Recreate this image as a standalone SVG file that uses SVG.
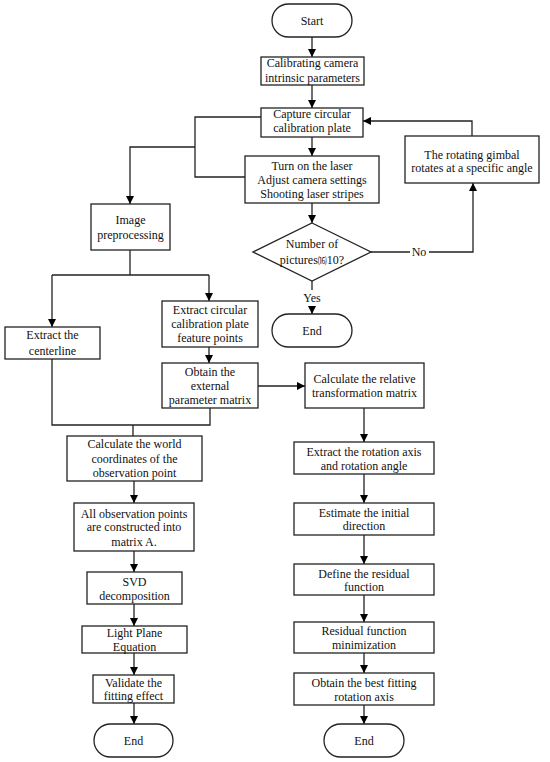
<svg xmlns="http://www.w3.org/2000/svg" width="550" height="762" viewBox="0 0 550 762">
<defs>
<marker id="ah" markerWidth="8" markerHeight="8" refX="8" refY="4" orient="auto" markerUnits="userSpaceOnUse">
<path d="M0,0 L8,4 L0,8 Z" fill="#000"/>
</marker>
<style>
.n rect,.n path,.n polygon{fill:#fff;stroke:#222;stroke-width:1.3}
text{font-family:"Liberation Serif","Times New Roman",serif;font-size:12px;fill:#111;text-anchor:middle}
.c path,.c line{fill:none;stroke:#222;stroke-width:1.3}
.a{marker-end:url(#ah)}
</style>
</defs>
<rect width="550" height="762" fill="#fff"/>
<g class="c" id="connectors">
<line class="a" x1="312" y1="37" x2="312" y2="57"/>
<line class="a" x1="312" y1="85" x2="312" y2="108"/>
<line class="a" x1="312" y1="137" x2="312" y2="156"/>
<line class="a" x1="312" y1="203" x2="312" y2="223"/>
<path d="M312,281 V290"/>
<line class="a" x1="312" y1="306" x2="312" y2="314"/>
<path d="M371,252 H410"/>
<path class="a" d="M429,252 H473 V183"/>
<path class="a" d="M472,136 V121 H363"/>
<path d="M261,117 H195 V177 H245"/>
<path class="a" d="M195,147 H130 V204"/>
<path d="M130,250 V275 M52,275 H209"/>
<line class="a" x1="52" y1="275" x2="52" y2="327"/>
<line class="a" x1="209" y1="275" x2="209" y2="301"/>
<line class="a" x1="209" y1="347" x2="209" y2="363"/>
<line class="a" x1="258" y1="386" x2="305" y2="386"/>
<path d="M52,359 V425 H210 V408 M133,425 V436"/>
<line class="a" x1="134" y1="481" x2="134" y2="503"/>
<line class="a" x1="134" y1="551" x2="134" y2="572"/>
<line class="a" x1="134" y1="604" x2="134" y2="626"/>
<line class="a" x1="134" y1="653" x2="134" y2="675"/>
<line class="a" x1="134" y1="703" x2="134" y2="724"/>
<line class="a" x1="364" y1="408" x2="364" y2="442"/>
<line class="a" x1="364" y1="474" x2="364" y2="503"/>
<line class="a" x1="364" y1="535" x2="364" y2="564"/>
<line class="a" x1="364" y1="595" x2="364" y2="622"/>
<line class="a" x1="364" y1="653" x2="364" y2="673"/>
<line class="a" x1="364" y1="705" x2="364" y2="724"/>
<text x="419" y="256">No</text>
<text x="312" y="302">Yes</text>
</g>
<g class="n" id="start"><rect x="272" y="4" width="80" height="33" rx="16.5"/><text x="312" y="25">Start</text></g>
<g class="n" id="calib"><rect x="261" y="57" width="103" height="28"/><text x="312.5" y="67">Calibrating camera</text><text x="312.5" y="82">intrinsic parameters</text></g>
<g class="n" id="capture"><rect x="261" y="108" width="102" height="29"/><text x="312" y="117.5">Capture circular</text><text x="312" y="132">calibration plate</text></g>
<g class="n" id="laser"><rect x="245" y="156" width="134" height="47"/><text x="312" y="170">Turn on the laser</text><text x="312" y="184">Adjust camera settings</text><text x="312" y="198">Shooting laser stripes</text></g>
<g class="n" id="gimbal"><rect x="405" y="136" width="134" height="47"/><text x="472" y="158.5">The rotating gimbal</text><text x="472" y="172">rotates at a specific angle</text></g>
<g class="n" id="decision"><polygon points="312,223 371,252 312,281 253,252"/><text x="312" y="248">Number of</text><text x="312" y="264">pictures<tspan font-family="Noto Sans CJK SC" font-size="9">⒃</tspan>10?</text></g>
<g class="n" id="end1"><rect x="272" y="314" width="80" height="33" rx="16.5"/><text x="312" y="335">End</text></g>
<g class="n" id="preproc"><rect x="91" y="204" width="79" height="46"/><text x="130.5" y="224">Image</text><text x="130.5" y="238.5">preprocessing</text></g>
<g class="n" id="centerline"><rect x="5" y="327" width="95" height="32"/><text x="52.5" y="339">Extract the</text><text x="52.5" y="355">centerline</text></g>
<g class="n" id="features"><rect x="162" y="301" width="96" height="46"/><text x="210" y="314">Extract circular</text><text x="210" y="328">calibration plate</text><text x="210" y="342">feature points</text></g>
<g class="n" id="extparam"><rect x="162" y="363" width="96" height="45"/><text x="210" y="376">Obtain the</text><text x="210" y="390">external</text><text x="210" y="404">parameter matrix</text></g>
<g class="n" id="reltrans"><rect x="305" y="363" width="119" height="45"/><text x="364.5" y="383">Calculate the relative</text><text x="364.5" y="397">transformation matrix</text></g>
<g class="n" id="world"><rect x="67" y="436" width="135" height="45"/><text x="134.5" y="448">Calculate the world</text><text x="134.5" y="463">coordinates of the</text><text x="134.5" y="477">observation point</text></g>
<g class="n" id="matrixA"><rect x="74" y="503" width="120" height="48"/><text x="134" y="517.5">All observation points</text><text x="134" y="531">are constructed into</text><text x="134" y="545.5">matrix A.</text></g>
<g class="n" id="svd"><rect x="87" y="572" width="95" height="32"/><text x="134.5" y="586">SVD</text><text x="134.5" y="599.5">decomposition</text></g>
<g class="n" id="plane"><rect x="82" y="626" width="105" height="27"/><text x="134.5" y="637">Light Plane</text><text x="134.5" y="651">Equation</text></g>
<g class="n" id="validate"><rect x="93" y="675" width="81" height="28"/><text x="133.5" y="686.5">Validate the</text><text x="133.5" y="700">fitting effect</text></g>
<g class="n" id="end2"><rect x="94" y="724" width="79" height="33" rx="16.5"/><text x="133.5" y="745">End</text></g>
<g class="n" id="axis"><rect x="294" y="442" width="140" height="32"/><text x="364" y="456">Extract the rotation axis</text><text x="364" y="470">and rotation angle</text></g>
<g class="n" id="initdir"><rect x="294" y="503" width="140" height="32"/><text x="364" y="516.5">Estimate the initial</text><text x="364" y="530">direction</text></g>
<g class="n" id="residual"><rect x="294" y="564" width="140" height="31"/><text x="364" y="577.5">Define the residual</text><text x="364" y="591">function</text></g>
<g class="n" id="minim"><rect x="294" y="622" width="140" height="31"/><text x="364" y="635">Residual function</text><text x="364" y="648.5">minimization</text></g>
<g class="n" id="bestaxis"><rect x="294" y="673" width="140" height="32"/><text x="364" y="687">Obtain the best fitting</text><text x="364" y="701">rotation axis</text></g>
<g class="n" id="end3"><rect x="324" y="724" width="80" height="33" rx="16.5"/><text x="364" y="745">End</text></g>
</svg>
